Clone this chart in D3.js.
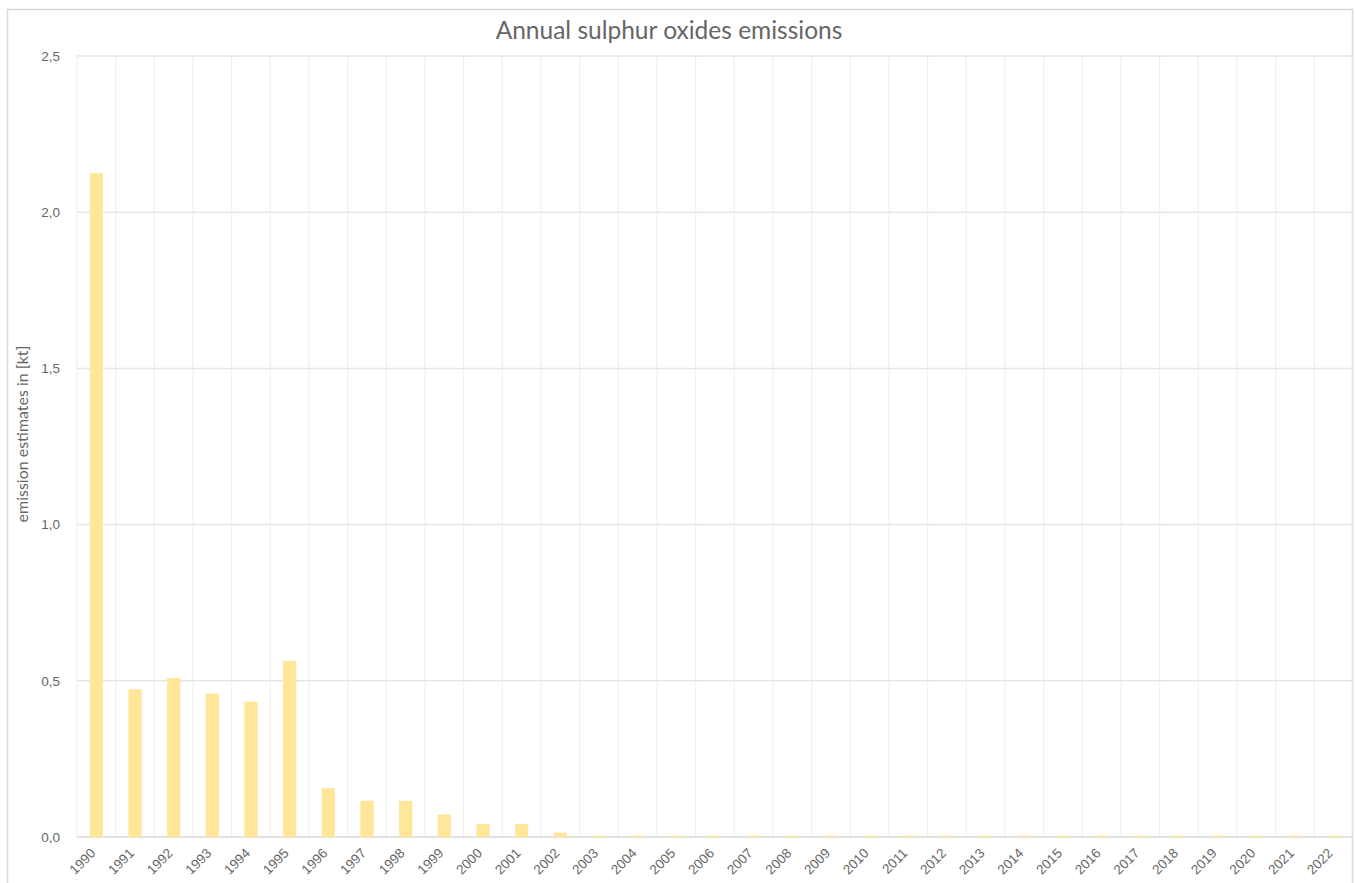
<!DOCTYPE html>
<html><head><meta charset="utf-8">
<script src="https://cdn.jsdelivr.net/npm/d3@7"></script>
<style>
html,body{margin:0;padding:0;background:#fff;}
svg{display:block;font-family:Lato,"Open Sans","Liberation Sans",sans-serif;}
</style></head>
<body><svg id="c" width="1355" height="883"></svg>
<script>
const years = ["1990","1991","1992","1993","1994","1995","1996","1997","1998","1999","2000","2001","2002","2003","2004","2005","2006","2007","2008","2009","2010","2011","2012","2013","2014","2015","2016","2017","2018","2019","2020","2021","2022"];
const emissions = [2.125,0.473,0.509,0.459,0.433,0.564,0.156,0.116,0.116,0.072,0.042,0.042,0.014,0.004,0.004,0.004,0.004,0.004,0.004,0.004,0.004,0.004,0.004,0.004,0.004,0.004,0.004,0.004,0.004,0.004,0.004,0.004,0.004];
const yTicks = [0,0.5,1.0,1.5,2.0,2.5];
const title = "Annual sulphur oxides emissions";
const yLabel = "emission estimates in [kt]";

const svg = d3.select("#c");
const m = {left:77, right:1353, top:56, bottom:837};
const locale = d3.formatLocale({decimal:",", thousands:".", grouping:[3], currency:["","€"]});
const fmt = locale.format(".1f");

svg.append("rect").attr("x",7.5).attr("y",9.5).attr("width",1345).attr("height",880)
  .attr("fill","#fff").attr("stroke","#d9d9d9").attr("stroke-width",1.5);

const x = d3.scaleBand().domain(years).range([m.left,m.right]).paddingInner(0).paddingOuter(0);
const y = d3.scaleLinear().domain([0,2.5]).range([m.bottom,m.top]);

const bounds = years.map(d=>x(d)).concat([m.right]);
svg.append("g").selectAll("line").data(bounds).join("line")
  .attr("x1",d=>d).attr("x2",d=>d).attr("y1",m.top).attr("y2",m.bottom)
  .attr("stroke","#efefef").attr("stroke-width",1.2);

svg.append("g").selectAll("line").data(yTicks).join("line")
  .attr("x1",m.left).attr("x2",m.right).attr("y1",d=>y(d)).attr("y2",d=>y(d))
  .attr("stroke",d=>d===0?"#d9d9d9":"#e6e6e6").attr("stroke-width",1.5);

const bw = x.bandwidth()*0.34;
svg.append("g").selectAll("rect").data(years).join("rect")
  .attr("x",(d)=>x(d)+x.bandwidth()/2-bw/2)
  .attr("width",bw)
  .attr("y",(d,i)=>y(emissions[i]))
  .attr("height",(d,i)=>Math.max(1.5,y(0)-y(emissions[i])))
  .attr("fill","#ffe699");

const ya = svg.append("g").attr("transform",`translate(${m.left},0)`)
  .call(d3.axisLeft(y).tickValues(yTicks).tickFormat(fmt).tickSize(0).tickPadding(17));
ya.select(".domain").remove();
ya.selectAll("text").attr("fill","#666").attr("font-size",13.5);

const xa = svg.append("g").attr("transform",`translate(0,${m.bottom})`)
  .call(d3.axisBottom(x).tickSize(0).tickPadding(0));
xa.select(".domain").remove();
xa.selectAll("text").attr("fill","#666").attr("font-size",13.5)
  .attr("text-anchor","end").attr("dy",0)
  .attr("transform","translate(0,17) rotate(-45)");

function fit(sel, target){
  const fs = +sel.attr("font-size");
  const w = sel.node().getComputedTextLength();
  if (w>0) sel.attr("font-size", fs*target/w);
}
const t = svg.append("text").attr("x",669).attr("y",39).attr("text-anchor","middle")
  .attr("font-size",20).attr("fill","#666").text(title);
fit(t,347);

const yl = svg.append("text").attr("transform",`translate(28,434) rotate(-90)`).attr("text-anchor","middle")
  .attr("font-size",12).attr("fill","#666").text(yLabel);
fit(yl,177);
</script></body></html>
